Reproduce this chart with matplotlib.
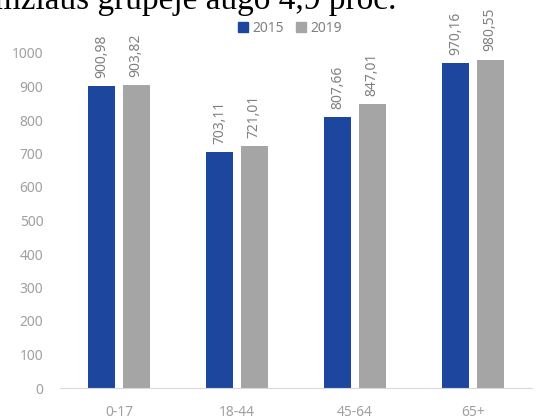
import matplotlib.pyplot as plt
import numpy as np
from matplotlib.lines import Line2D

categories = ['0-17', '18-44', '45-64', '65+']
vals_2015 = [900.98, 703.11, 807.66, 970.16]
vals_2019 = [903.82, 721.01, 847.01, 980.55]
series_names = ['2015', '2019']
yticks = [0, 100, 200, 300, 400, 500, 600, 700, 800, 900, 1000]

blue = '#1d479e'
grey = '#a5a5a5'
W, H = 538, 420

plt.rcParams['font.family'] = ['Noto Sans', 'DejaVu Sans']

fig = plt.figure(figsize=(W / 100, H / 100), dpi=100)
ax = fig.add_axes([60 / W, 32 / H, 472 / W, 335 / H])

x = np.arange(len(categories))
bw = 0.23
off = 0.145
for vals, color, sign in [(vals_2015, blue, -1), (vals_2019, grey, 1)]:
    bars = ax.bar(x + sign * off, vals, width=bw, color=color, zorder=2)
    for b, v in zip(bars, vals):
        ax.annotate(f'{v:.2f}'.replace('.', ','),
                    (b.get_x() + b.get_width() / 2, v),
                    xytext=(0, 6), textcoords='offset points',
                    rotation=90, ha='center', va='bottom',
                    fontsize=10, color='#808080', annotation_clip=False)

ax.set_xlim(-0.5, 3.5)
ax.set_ylim(0, 1000)
ax.set_xticks(x)
ax.set_xticklabels(categories)
ax.set_yticks(yticks)
ax.tick_params(axis='both', length=0, labelsize=10, colors='#a0a0a0')
ax.tick_params(axis='x', pad=12)
ax.tick_params(axis='y', pad=12)
for s in ['top', 'right', 'left']:
    ax.spines[s].set_visible(False)
ax.spines['bottom'].set_color('#d9d9d9')

handles = [Line2D([], [], marker='s', linestyle='', markersize=7, color=c)
           for c in (blue, grey)]
fig.legend(handles, series_names, loc='center', bbox_to_anchor=(290 / W, 1 - 28 / H),
           ncol=2, frameon=False, fontsize=10, labelcolor='#808080',
           handlelength=0.7, handletextpad=0.3, columnspacing=0.9)

# cropped caption text from the page above the chart
fig.text(-20 / W, 1 - 9 / H, 'amžiaus grupėje augo 4,9 proc.',
         family='Liberation Serif', fontsize=24, color='black',
         ha='left', va='baseline')

fig.savefig('out.png', dpi=100)
